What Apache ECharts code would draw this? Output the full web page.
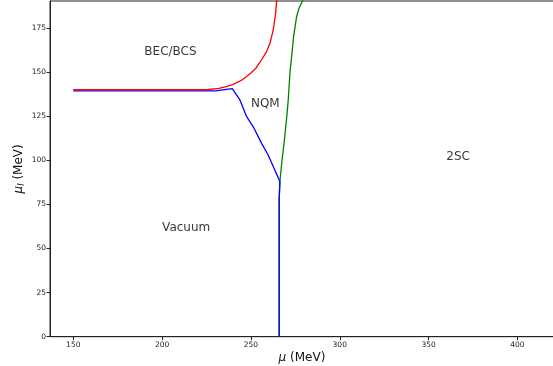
<!DOCTYPE html>
<html>
<head>
<meta charset="utf-8">
<script src="https://cdn.jsdelivr.net/npm/echarts@6/dist/echarts.min.js"></script>
<style>
  html, body { margin: 0; padding: 0; background: #fff; }
  #chart { width: 553px; height: 366px; }
</style>
</head>
<body>
<div id="chart"></div>
<script>
// phase boundaries, [mu, mu_I] in MeV
const redCurve = [
  [150, 140], [225, 140], [232, 140.8], [236, 141.8], [240, 143], [245, 145.5],
  [250, 149.5], [253, 152.5], [256, 157], [258.8, 161.6], [260.7, 166.3],
  [262.6, 174], [263.9, 183.3], [264.6, 192]
];
const blueCurve = [
  [150, 139.4], [230, 139.4], [239.5, 140.6], [243.8, 134.2], [247.6, 124.7],
  [251.3, 119], [256, 109.6], [259.7, 103], [266.3, 88], [265.9, 78], [265.9, 0]
];
const greenCurve = [
  [265.9, 0], [265.9, 77], [266.3, 88], [267.5, 100], [268.7, 110],
  [269.4, 117], [270.3, 126], [271, 134.2], [272, 150], [272.9, 158.7],
  [274, 170], [275.7, 181.4], [277, 186], [279.8, 192]
];
const phaseNames = ["BEC/BCS", "NQM", "Vacuum", "2SC"];
const phasePos = [[190, 160], [250, 130], [200, 60], [360, 100]];
const xTicks = [150, 200, 250, 300, 350, 400];
const yTicks = [0, 25, 50, 75, 100, 125, 150, 175];

const chart = echarts.init(document.getElementById("chart"));
const font = "DejaVu Sans";
const lineSeries = (data, color) => ({
  type: "line",
  data: data,
  showSymbol: false,
  symbol: "none",
  lineStyle: { color: color, width: 1.3 },
  silent: true
});
const nameRich = {
  m: { fontSize: 12, fontStyle: "italic", fontFamily: font, color: "#111" },
  s: { fontSize: 8, fontStyle: "italic", fontFamily: font, color: "#111", verticalAlign: "bottom", padding: [6, 0, 0, 0] }
};

chart.setOption({
  animation: false,
  textStyle: { fontFamily: font },
  grid: {
    left: 50, right: -1, top: 1, bottom: 29.3,
    outerBoundsMode: "none",
    show: true, borderColor: "#222", borderWidth: 1
  },
  xAxis: {
    type: "value",
    min: 136.9,
    max: 420.6,
    name: "{m|μ} (MeV)",
    nameLocation: "middle",
    nameGap: 15,
    nameMoveOverlap: false,
    nameTextStyle: { fontSize: 12, color: "#111", fontFamily: font, rich: nameRich },
    axisLine: { show: true, lineStyle: { color: "#222", width: 1 } },
    axisTick: { show: true, length: 3.5, customValues: xTicks, lineStyle: { color: "#222" } },
    axisLabel: { customValues: xTicks, fontSize: 7.5, color: "#222", margin: 4, fontFamily: font },
    splitLine: { show: false }
  },
  yAxis: {
    type: "value",
    min: 0,
    max: 190.3,
    name: "{m|μ}{s|I} (MeV)",
    nameLocation: "middle",
    nameGap: 24,
    nameRotate: 90,
    nameMoveOverlap: false,
    nameTextStyle: { fontSize: 12, color: "#111", fontFamily: font, rich: nameRich },
    axisLine: { show: true, lineStyle: { color: "#222", width: 1 } },
    axisTick: { show: true, length: 3.5, customValues: yTicks, lineStyle: { color: "#222" } },
    axisLabel: { customValues: yTicks, fontSize: 7.5, color: "#222", margin: 4, fontFamily: font },
    splitLine: { show: false }
  },
  series: [
    lineSeries(greenCurve, "#008000"),
    lineSeries(blueCurve, "#0000ff"),
    lineSeries(redCurve, "#ff0000"),
    {
      type: "scatter",
      symbolSize: 0,
      silent: true,
      data: phasePos.map((p, i) => ({ value: p, name: phaseNames[i] })),
      label: {
        show: true,
        formatter: p => p.name,
        position: [0, 0],
        offset: [0, 3],
        align: "left",
        verticalAlign: "bottom",
        fontSize: 12,
        color: "#000",
        fontFamily: font
      }
    }
  ]
});
</script>
</body>
</html>
